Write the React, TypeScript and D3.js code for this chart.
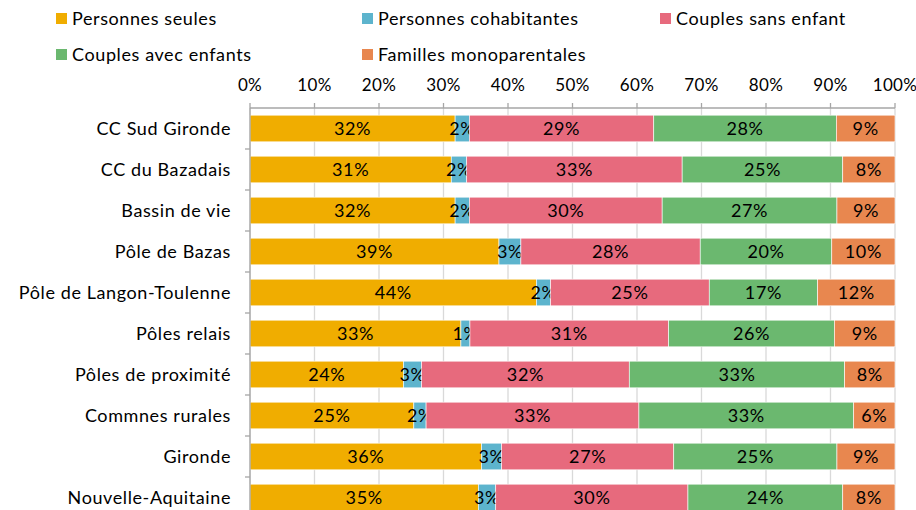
import React from 'react';
import * as d3 from 'd3';

const categories = [
    'CC Sud Gironde', 'CC du Bazadais', 'Bassin de vie', 'Pôle de Bazas',
    'Pôle de Langon-Toulenne', 'Pôles relais', 'Pôles de proximité',
    'Commnes rurales', 'Gironde', 'Nouvelle-Aquitaine',
];
const seriesNames = [
    'Personnes seules', 'Personnes cohabitantes', 'Couples sans enfant',
    'Couples avec enfants', 'Familles monoparentales',
];
const personnesSeules = [31.8, 31.2, 31.8, 38.6, 44.4, 32.7, 23.8, 25.4, 35.9, 35.4];
const personnesCohabitantes = [2.2, 2.4, 2.2, 3.4, 2.2, 1.4, 2.8, 1.9, 3.1, 2.7];
const couplesSansEnfant = [28.6, 33.4, 29.9, 27.8, 24.6, 30.8, 32.2, 33.0, 26.7, 29.8];
const couplesAvecEnfants = [28.3, 24.9, 27.1, 20.4, 16.8, 25.7, 33.4, 33.3, 25.3, 24.0];
const famillesMono = [9.1, 8.1, 9.0, 9.8, 12.0, 9.4, 7.8, 6.4, 9.0, 8.1];
const ticks = [0, 10, 20, 30, 40, 50, 60, 70, 80, 90, 100];
const colors = ['#F0AD00', '#5DB4CD', '#E76A7D', '#6BB86F', '#E8874F'];

const FONT = 'Lato, "Open Sans", sans-serif';

const App = () => {
    const width = 916, height = 510;
    const left = 250, right = 895, top = 108;
    const band = 41;

    const rows = categories.map((c, i) => ({
        cat: c,
        s0: personnesSeules[i], s1: personnesCohabitantes[i], s2: couplesSansEnfant[i],
        s3: couplesAvecEnfants[i], s4: famillesMono[i],
    }));
    const keys = ['s0', 's1', 's2', 's3', 's4'];
    const stacked = d3.stack().keys(keys)(rows as any);

    const x = d3.scaleLinear().domain([0, 100]).range([left, right]);
    const y = d3.scaleBand().domain(categories)
        .range([top, top + band * categories.length])
        .paddingInner(0.35).paddingOuter(0.175);

    const legendPos = [[56, 19], [362, 19], [660, 19], [56, 55], [362, 55]];

    return (
        <svg width={width} height={height} style={{ position: 'absolute', left: 0, top: 0 }}>
            {/* legend */}
            {seriesNames.map((n, i) => (
                <g key={n} transform={`translate(${legendPos[i][0]},${legendPos[i][1]})`}>
                    <rect x={0} y={-6} width={11} height={11} fill={colors[i]} />
                    <text x={16} y={0} dy="0.35em" fontFamily={FONT} fontSize={18}
                          letterSpacing={0.6} fill="#000">{n}</text>
                </g>
            ))}

            {/* gridlines */}
            {ticks.map(t => (
                <line key={'g' + t} x1={x(t)} x2={x(t)} y1={top} y2={top + band * 10}
                      stroke="#D9D9D9" strokeWidth={1.3} />
            ))}
            {/* top axis */}
            <line x1={left} x2={right} y1={top} y2={top} stroke="#A6A6A6" strokeWidth={1.3} />
            {ticks.map(t => (
                <g key={'t' + t}>
                    <line x1={x(t)} x2={x(t)} y1={top - 5} y2={top} stroke="#A6A6A6" strokeWidth={1.3} />
                    <text x={x(t)} y={85} dy="0.35em" textAnchor="middle"
                          fontFamily={FONT} fontSize={17} letterSpacing={0.3} fill="#000">{t}%</text>
                </g>
            ))}

            {/* bars */}
            {stacked.map((layer, si) => (
                <g key={layer.key} fill={colors[si]}>
                    {layer.map((d, i) => {
                        const x0 = x(d[0]), x1 = x(d[1]);
                        const yy = y(categories[i])!;
                        const v = d[1] - d[0];
                        return (
                            <g key={i}>
                                <rect x={x0} y={yy} width={x1 - x0} height={y.bandwidth()}
                                      stroke="#fff" strokeWidth={0.6} />
                                <text x={(x0 + x1) / 2} y={yy + y.bandwidth() / 2} dy="0.36em"
                                      textAnchor="middle" fontFamily={FONT} fontSize={18}
                                      letterSpacing={0.6} fill="#000">{Math.round(v)}%</text>
                            </g>
                        );
                    })}
                </g>
            ))}

            {/* left axis */}
            <line x1={left} x2={left} y1={top} y2={top + band * 10} stroke="#A6A6A6" strokeWidth={1.3} />
            {categories.map((c, i) => (
                <line key={'lt' + i} x1={left - 5} x2={left} y1={top + band * (i + 1)} y2={top + band * (i + 1)}
                      stroke="#A6A6A6" strokeWidth={1.3} />
            ))}
            {categories.map(c => (
                <text key={c} x={231} y={y(c)! + y.bandwidth() / 2} dy="0.35em" textAnchor="end"
                      fontFamily={FONT} fontSize={18} letterSpacing={0.6} fill="#000">{c}</text>
            ))}
        </svg>
    );
};

export default App;
